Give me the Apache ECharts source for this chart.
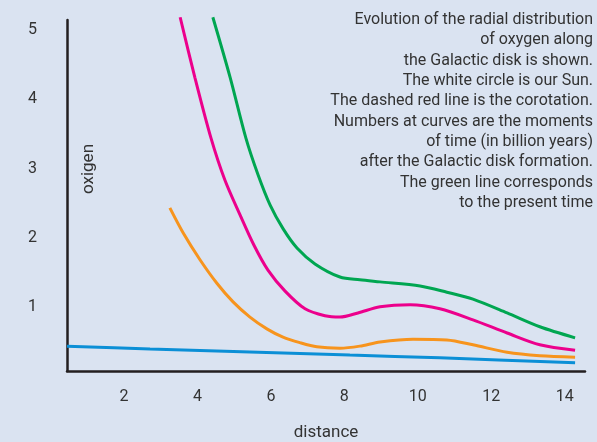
<!DOCTYPE html>
<html>
<head>
<meta charset="utf-8">
<script src="https://cdn.jsdelivr.net/npm/echarts@6/dist/echarts.min.js"></script>
<style>
html,body{margin:0;padding:0;background:#dae3f1;overflow:hidden;}
#chart{width:597px;height:442px;}
</style>
</head>
<body>
<div id="chart"></div>
<script>
// Data (distance, oxigen)
var blueLine = [[0.45,0.43],[2.71,0.39],[8.15,0.30],[10.60,0.26],[14.28,0.19]];
var orangeLine = [[3.25,2.43],[3.61,2.07],[4.07,1.68],[4.53,1.34],[4.97,1.07],[5.43,0.85],[5.89,0.68],[6.33,0.56],[6.79,0.48],[7.25,0.42],[7.88,0.40],[8.42,0.43],[8.97,0.49],[9.87,0.53],[10.79,0.52],[11.50,0.45],[12.43,0.34],[13.32,0.29],[14.28,0.27]];
var magentaLine = [[3.53,5.19],[3.93,4.32],[4.37,3.44],[4.75,2.83],[5.16,2.33],[5.54,1.89],[5.92,1.53],[6.38,1.23],[6.93,0.97],[7.47,0.87],[7.88,0.85],[8.37,0.91],[8.97,1.00],[9.79,1.03],[10.60,0.97],[11.50,0.81],[12.43,0.62],[13.32,0.45],[14.28,0.37]];
var greenLine = [[4.42,5.19],[4.89,4.32],[5.32,3.44],[5.65,2.91],[5.98,2.47],[6.33,2.13],[6.71,1.85],[7.20,1.62],[7.88,1.43],[8.42,1.39],[8.97,1.36],[10.06,1.30],[10.79,1.21],[11.50,1.11],[12.43,0.91],[13.32,0.71],[14.28,0.55]];
var xTicks = [2,4,6,8,10,12,14];
var yTicks = [1,2,3,4,5];
var noteLines = [
  'Evolution of the radial distribution',
  'of oxygen along',
  'the Galactic disk is shown.',
  'The white circle is our Sun.',
  'The dashed red line is the corotation.',
  'Numbers at curves are the moments',
  'of time (in billion years)',
  'after the Galactic disk formation.',
  'The green line corresponds',
  'to the present time'
];

var chart = echarts.init(document.getElementById('chart'), null, {renderer:'canvas'});
function mk(data, color){
  return {type:'line', data:data, smooth:0.3, showSymbol:false, symbol:'none', clip:false,
    lineStyle:{color:color, width:3}, itemStyle:{color:color}};
}
var FONT = 'Roboto';
chart.setOption({
  backgroundColor:'#dae3f1',
  animation:false,
  grid:{left:67, right:12, top:20, bottom:71, containLabel:false, outerBoundsMode:'none'},
  xAxis:{
    type:'value', min:0.45, max:14.55,
    name:'distance', nameLocation:'middle', nameGap:53,
    nameTextStyle:{color:'#333', fontSize:17, fontFamily:FONT},
    axisLine:{show:true, lineStyle:{color:'#231f20', width:2.5}},
    axisTick:{show:false},
    splitLine:{show:false},
    axisLabel:{customValues:xTicks, color:'#333', fontSize:16, fontFamily:FONT, margin:18}
  },
  yAxis:{
    type:'value', min:0.07, max:5.15,
    axisLine:{show:true, lineStyle:{color:'#231f20', width:2.5}},
    axisTick:{show:false},
    splitLine:{show:false},
    axisLabel:{customValues:yTicks, color:'#333', fontSize:16, fontFamily:FONT, margin:30}
  },
  graphic:[
    {type:'text', x:89, y:169, rotation:Math.PI/2,
      style:{text:'oxigen', fill:'#333', font:'17px '+FONT, textAlign:'center', textVerticalAlign:'middle'}},
    {type:'text', x:593, y:10,
      style:{text:noteLines.join('\n'), fill:'#333', font:'16px '+FONT, textAlign:'right', textVerticalAlign:'top', lineHeight:20.3}}
  ],
  series:[
    mk(blueLine,'#0b8fd6'),
    mk(orangeLine,'#f7941d'),
    mk(magentaLine,'#ec008c'),
    mk(greenLine,'#00a651')
  ]
});
</script>
</body>
</html>
